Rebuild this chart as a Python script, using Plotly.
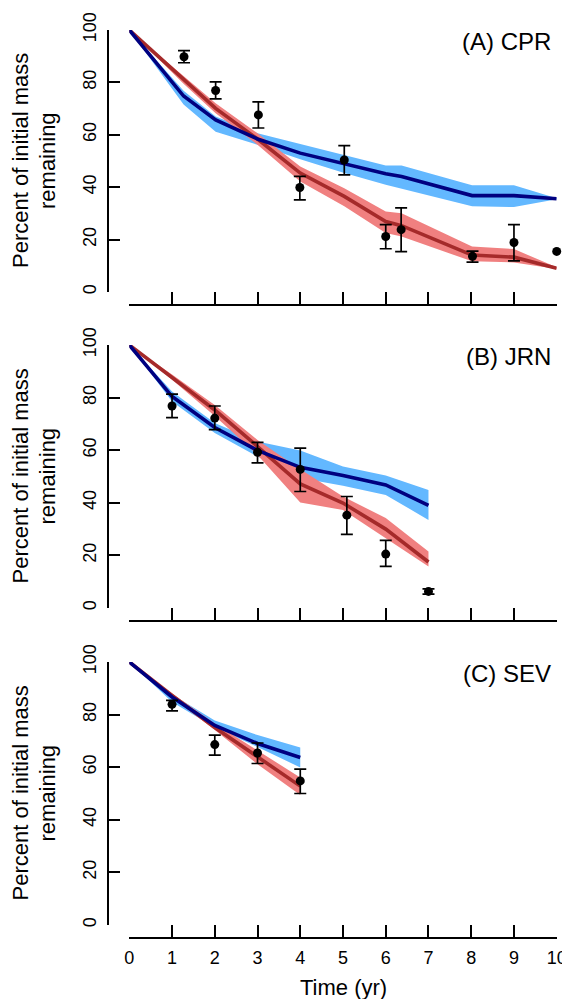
import plotly.graph_objects as go

# ---------------- data ----------------
panel_labels = ["(A) CPR", "(B) JRN", "(C) SEV"]

# Panel A (CPR)
a_time = [0, 1.27, 2.02, 3.0, 4.0, 5.03, 6.0, 6.37, 8.02, 9.0, 10.0]
a_blue = [100, 74.8, 65.7, 58.4, 53.0, 48.8, 45.1, 44.1, 36.8, 36.8, 35.6]
a_blue_hi = [100, 76.8, 67.0, 60.6, 56.5, 52.4, 48.3, 48.3, 40.7, 40.7, 35.8]
a_blue_lo = [100, 71.6, 61.2, 56.2, 50.7, 45.4, 40.9, 39.6, 32.7, 32.4, 35.4]
a_red = [100, 81.0, 70.1, 58.4, 45.4, 36.5, 26.9, 25.3, 14.1, 13.3, 9.1]
a_red_hi = [100, 82.5, 72.0, 60.6, 47.9, 39.6, 30.7, 30.1, 17.4, 16.4, 9.4]
a_red_lo = [100, 79.5, 68.2, 56.2, 42.2, 32.7, 22.5, 21.2, 11.7, 11.3, 8.8]
a_obs_t = [1.28, 2.02, 3.02, 3.99, 5.03, 6.0, 6.36, 8.03, 9.0, 10.0]
a_obs = [89.8, 76.9, 67.6, 39.9, 50.4, 21.2, 23.8, 13.6, 18.9, 15.5]
a_obs_hi = [92.1, 80.2, 72.6, 44.1, 55.9, 25.7, 32.1, 15.6, 25.7, None]
a_obs_lo = [87.5, 73.7, 62.6, 35.2, 44.7, 16.5, 15.4, 11.4, 11.9, None]

# Panel B (JRN)
b_time = [0, 1, 2, 3, 4, 5, 6, 7]
b_blue = [100, 80.4, 68.6, 59.9, 53.5, 50.4, 46.8, 39.0]
b_blue_hi = [100, 82.3, 70.3, 63.3, 59.9, 53.8, 50.4, 44.9]
b_blue_lo = [100, 78.5, 66.5, 57.6, 49.4, 46.5, 43.0, 33.5]
b_red = [100, 87.8, 75.3, 61.4, 47.2, 39.9, 30.0, 17.5]
b_red_hi = [100, 88.8, 77.2, 63.9, 52.8, 42.4, 34.2, 21.5]
b_red_lo = [100, 86.8, 73.0, 58.2, 40.1, 37.3, 26.6, 15.8]
b_obs_t = [1, 2, 3, 4, 5.09, 6, 7]
b_obs = [76.8, 72.2, 59.2, 52.7, 35.3, 20.5, 6.3]
b_obs_hi = [81.3, 76.8, 63.0, 60.8, 42.4, 25.7, 7.3]
b_obs_lo = [72.4, 67.8, 55.2, 44.3, 28.0, 15.8, 5.3]

# Panel C (SEV)
c_time = [0, 1, 2, 3, 4]
c_blue = [100, 86.7, 75.9, 69.0, 63.7]
c_blue_hi = [100, 87.6, 77.8, 72.2, 67.5]
c_blue_lo = [100, 84.8, 75.1, 67.7, 59.9]
c_red = [100, 87.3, 75.1, 63.9, 52.8]
c_red_hi = [100, 88.0, 76.6, 66.5, 56.1]
c_red_lo = [100, 86.5, 74.1, 61.1, 49.4]
c_obs_t = [1, 2, 3, 4]
c_obs = [83.9, 68.6, 65.4, 54.8]
c_obs_hi = [85.4, 72.2, 69.2, 59.3]
c_obs_lo = [81.4, 64.6, 61.4, 50.0]

y_ticks = [0, 20, 40, 60, 80, 100]
x_ticks = list(range(0, 11))

# ---------------- styling / layout ----------------
PAGE_OFFSET = 8            # default body margin of the html page
W, H = 570 - PAGE_OFFSET, 999 - PAGE_OFFSET
FONT = "Liberation Sans, Arial, sans-serif"
BLUE_BAND = "#63b8ff"
BLUE_LINE = "#000080"
RED_BAND = "#f08080"
RED_LINE = "#a52a2a"

x_left_px, x_right_px = 129.3, 556.7
yaxis_line_px = 107.5
panels_px = [(30, 292), (345, 608), (662, 925)]  # (pixel of 100, pixel of 0) on screen
xaxis_offset = 13

def py(px):
    return 1 - (px - PAGE_OFFSET) / H

def px_x(px):
    return (px - PAGE_OFFSET) / W

panels = [
    (a_time, a_blue, a_blue_hi, a_blue_lo, a_red, a_red_hi, a_red_lo, a_obs_t, a_obs, a_obs_hi, a_obs_lo),
    (b_time, b_blue, b_blue_hi, b_blue_lo, b_red, b_red_hi, b_red_lo, b_obs_t, b_obs, b_obs_hi, b_obs_lo),
    (c_time, c_blue, c_blue_hi, c_blue_lo, c_red, c_red_hi, c_red_lo, c_obs_t, c_obs, c_obs_hi, c_obs_lo),
]

fig = go.Figure()
layout = dict(
    width=W, height=H,
    margin=dict(l=0, r=0, t=0, b=0, autoexpand=False),
    paper_bgcolor="white", plot_bgcolor="white",
    showlegend=False,
    font=dict(family=FONT, size=18, color="black"),
)
annotations = []

for i, (t, bm, bh, bl, rm, rh, rl, ot, ov, oh, ol) in enumerate(panels):
    n = i + 1
    xa = "x" if n == 1 else f"x{n}"
    ya = "y" if n == 1 else f"y{n}"
    top, bot = panels_px[i]

    # bands
    fig.add_trace(go.Scatter(x=t + t[::-1], y=bh + bl[::-1], fill="toself",
                             fillcolor=BLUE_BAND, line=dict(width=0), mode="lines",
                             hoverinfo="skip", xaxis=xa, yaxis=ya))
    fig.add_trace(go.Scatter(x=t + t[::-1], y=rh + rl[::-1], fill="toself",
                             fillcolor=RED_BAND, line=dict(width=0), mode="lines",
                             hoverinfo="skip", xaxis=xa, yaxis=ya))
    # mean lines
    fig.add_trace(go.Scatter(x=t, y=rm, mode="lines", line=dict(color=RED_LINE, width=3.6),
                             xaxis=xa, yaxis=ya))
    fig.add_trace(go.Scatter(x=t, y=bm, mode="lines", line=dict(color=BLUE_LINE, width=3.6),
                             xaxis=xa, yaxis=ya))
    # observations with error bars
    ex, ey, eplus, eminus, nx, ny = [], [], [], [], [], []
    for xx, yy, hh, ll in zip(ot, ov, oh, ol):
        if hh is None:
            nx.append(xx); ny.append(yy)
        else:
            ex.append(xx); ey.append(yy)
            eplus.append(hh - yy); eminus.append(yy - ll)
    fig.add_trace(go.Scatter(x=ex, y=ey, mode="markers",
                             marker=dict(color="black", size=9),
                             error_y=dict(type="data", array=eplus, arrayminus=eminus,
                                          symmetric=False, color="black", thickness=1.7, width=6),
                             cliponaxis=False, xaxis=xa, yaxis=ya))
    if nx:
        fig.add_trace(go.Scatter(x=nx, y=ny, mode="markers",
                                 marker=dict(color="black", size=9),
                                 cliponaxis=False, xaxis=xa, yaxis=ya))

    last = (n == 3)
    layout["xaxis" if n == 1 else f"xaxis{n}"] = dict(
        domain=[px_x(x_left_px), px_x(x_right_px)],
        range=[0, 10], anchor="free", position=py(bot + xaxis_offset),
        tickmode="array", tickvals=x_ticks, ticktext=[str(v) for v in x_ticks],
        ticks="inside", ticklen=12, tickwidth=1.5, tickcolor="black",
        showline=True, linecolor="black", linewidth=1.5,
        showgrid=False, zeroline=False, showticklabels=last,
        tickfont=dict(size=18, family=FONT), ticklabelstandoff=4,
        automargin=False, fixedrange=True,
    )
    layout["yaxis" if n == 1 else f"yaxis{n}"] = dict(
        domain=[py(bot), py(top)],
        range=[0, 100], anchor="free", position=px_x(yaxis_line_px),
        tickmode="array", tickvals=y_ticks, ticktext=[str(v) for v in y_ticks],
        ticks="inside", ticklen=12, tickwidth=1.5, tickcolor="black",
        showline=True, linecolor="black", linewidth=1.5,
        showgrid=False, zeroline=False, tickangle=-90,
        tickfont=dict(size=18, family=FONT), ticklabelstandoff=4,
        automargin=False, fixedrange=True,
    )
    # panel label
    annotations.append(dict(text=panel_labels[i], xref="paper", yref="paper",
                            x=px_x(553), y=py(top + 11), xanchor="right", yanchor="middle",
                            showarrow=False, font=dict(size=24, family=FONT, color="black")))
    # y title (two lines)
    mid = (top + bot) / 2
    annotations.append(dict(text="Percent of initial mass", xref="paper", yref="paper",
                            x=px_x(20), y=py(mid), xanchor="center", yanchor="middle",
                            textangle=-90, showarrow=False,
                            font=dict(size=22, family=FONT, color="black")))
    annotations.append(dict(text="remaining", xref="paper", yref="paper",
                            x=px_x(47), y=py(mid), xanchor="center", yanchor="middle",
                            textangle=-90, showarrow=False,
                            font=dict(size=22, family=FONT, color="black")))

annotations.append(dict(text="Time (yr)", xref="paper", yref="paper",
                        x=px_x((x_left_px + x_right_px) / 2), y=py(987),
                        xanchor="center", yanchor="middle", showarrow=False,
                        font=dict(size=22, family=FONT, color="black")))

layout["annotations"] = annotations
fig.update_layout(**layout)
fig.write_html("out.html")
